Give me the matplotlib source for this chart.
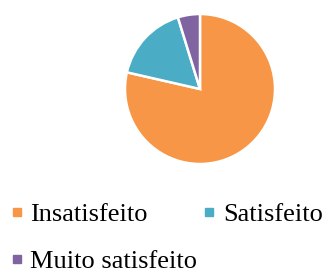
import matplotlib
matplotlib.use("Agg")
import matplotlib.pyplot as plt
from matplotlib.lines import Line2D

labels = ['Insatisfeito', 'Satisfeito', 'Muito satisfeito']
values = [33, 7, 2]
cores = ['#F79646', '#4BACC6', '#8064A2']

plt.rcParams['font.family'] = ['Liberation Serif', 'DejaVu Serif']

fig = plt.figure(figsize=(3.28, 2.74), dpi=100)
ax = fig.add_axes([125/328, (274-164)/274, 150/328, 150/274])
ax.pie(values, colors=cores, startangle=90, counterclock=False,
       wedgeprops=dict(edgecolor='white', linewidth=1.8))
ax.set_xlim(-1.0, 1.0)
ax.set_ylim(-1.0, 1.0)
ax.set_aspect('equal')

handles = [Line2D([], [], marker='s', linestyle='none', markersize=5.5,
                  markerfacecolor=c, markeredgecolor=c) for c in cores]
# legend fills by column, so reorder to get row-wise layout
ordem = [0, 2, 1]
fig.legend([handles[i] for i in ordem], [labels[i] for i in ordem],
           loc='upper left', bbox_to_anchor=(0.027, 0.26),
           ncol=2, frameon=False, fontsize=19, handlelength=0.6, handletextpad=0.22,
           columnspacing=0.15, labelspacing=0.9, borderpad=0, borderaxespad=0,
           bbox_transform=fig.transFigure)

fig.savefig('out.png', dpi=100)
